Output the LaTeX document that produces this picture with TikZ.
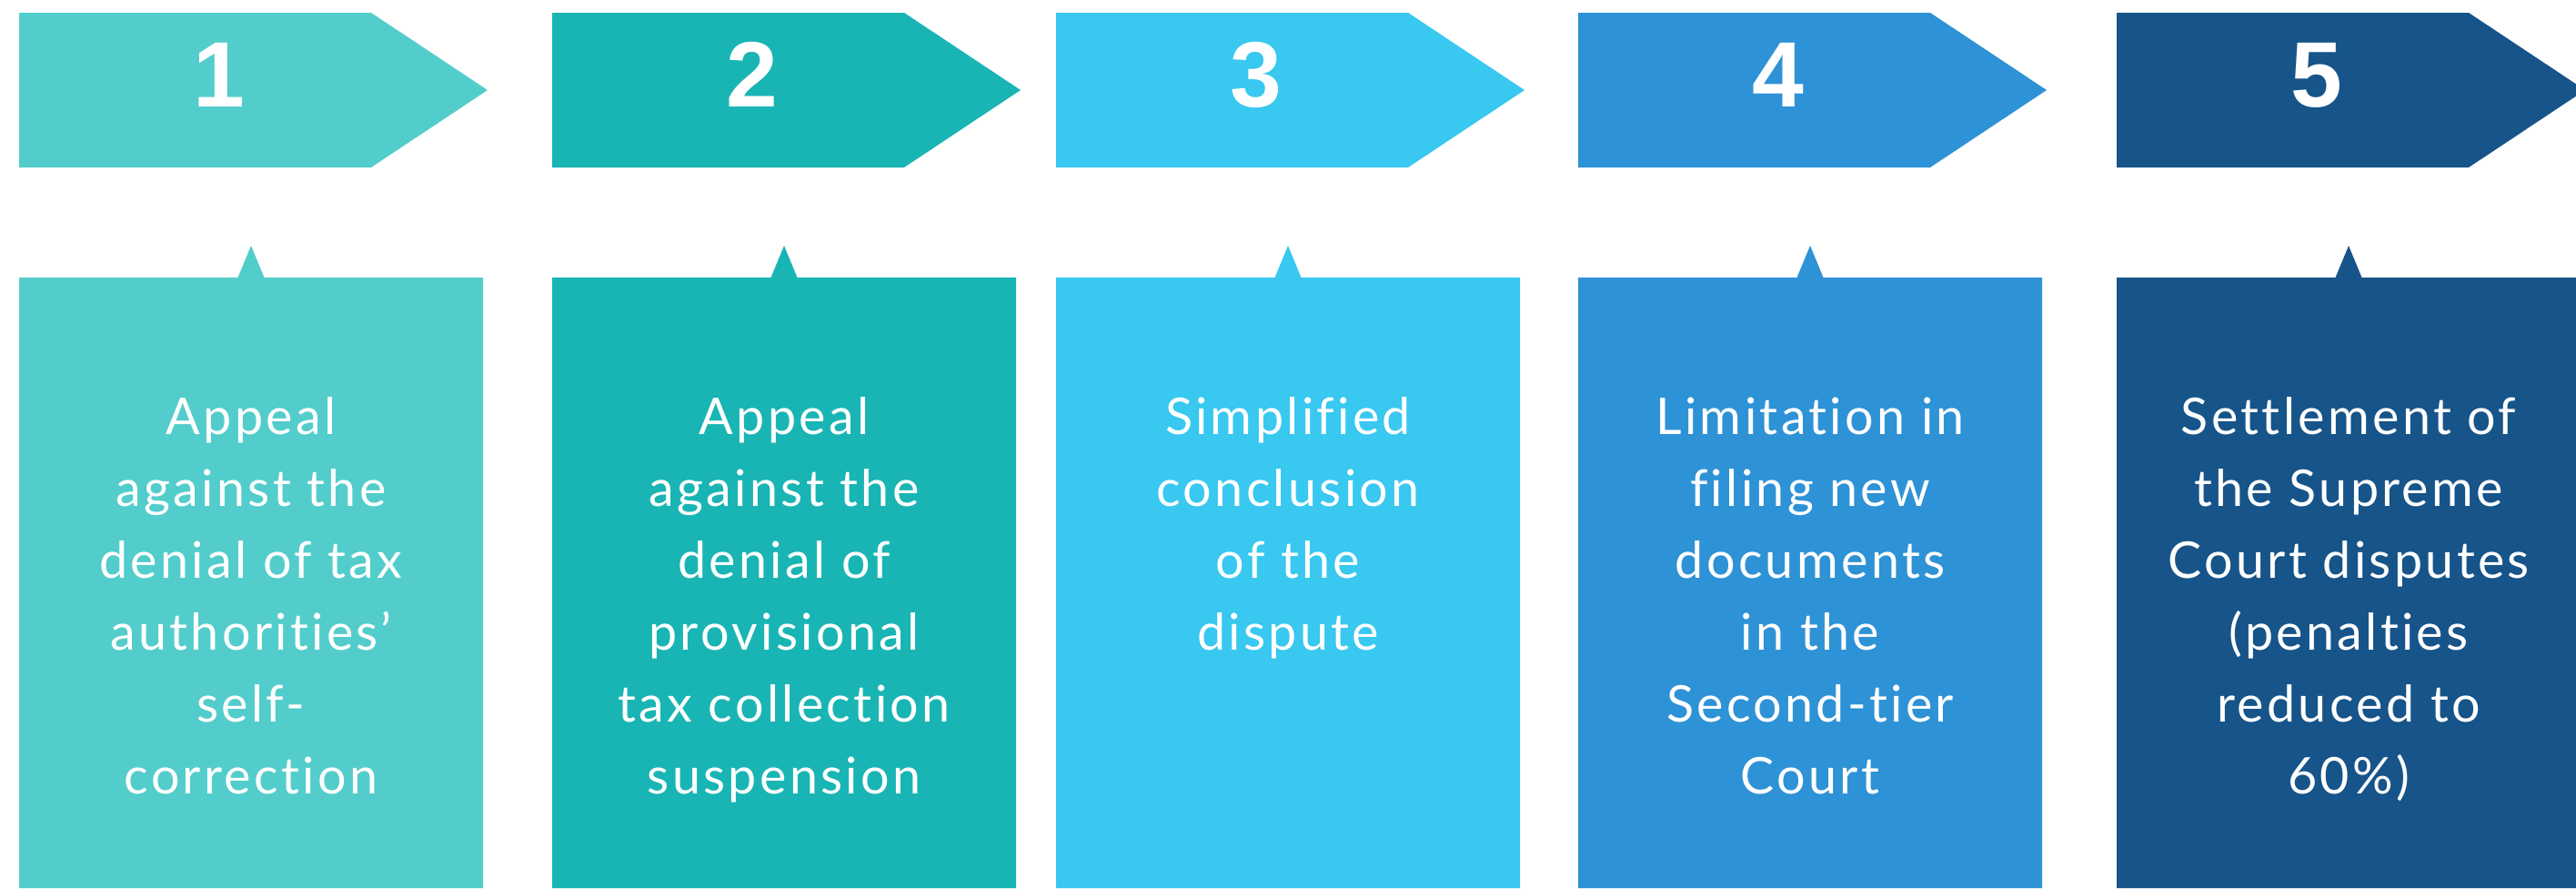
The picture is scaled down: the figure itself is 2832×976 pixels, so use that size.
\documentclass[tikz,border=0pt]{standalone}
\usepackage{fontspec}
\setmainfont[Ligatures=NoCommon,LetterSpace=6]{Lato}
\newfontfamily\numfont{Liberation Sans}
\definecolor{cA}{HTML}{52CDCB}
\definecolor{cB}{HTML}{19B5B4}
\definecolor{cC}{HTML}{38C8F0}
\definecolor{cD}{HTML}{2E92D6}
\definecolor{cE}{HTML}{165489}
\tikzset{
  numlabel/.style={text=white, font=\numfont\bfseries\fontsize{25.5}{25.5}\selectfont, inner sep=0pt, anchor=base},
  bodytext/.style={text=white, font=\fontsize{13.9}{19.75}\selectfont, align=center, inner sep=0pt, anchor=north},
}
\newcommand\stagebox[5]{%
  \fill[#2] (#1,14) -- (#1+387,14) -- (#1+515,99) -- (#1+387,184) -- (#1,184) -- cycle;
  \fill[#2] (#1,305) -- (#1+240.5,305) -- (#1+255,270) -- (#1+269.5,305) -- (#1+510,305) -- (#1+510,976) -- (#1,976) -- cycle;
  \node[numlabel] (n#5) at (#1+220,117) {#3};
  \node[bodytext] (t#5) at (#1+255,436) {#4};
}
\begin{document}
\begin{tikzpicture}[x=0.25pt,y=-0.25pt]
\clip (0,0) rectangle (2832,976);
\fill[white] (0,0) rectangle (2832,976);
\stagebox{21}{cA}{1}{Appeal\\against the\\denial of tax\\authorities’\\self-\\correction}{a}
\stagebox{607}{cB}{2}{Appeal\\against the\\denial of\\provisional\\tax collection\\suspension}{b}
\stagebox{1161}{cC}{3}{Simplified\\conclusion\\of the\\dispute}{c}
\stagebox{1735}{cD}{4}{Limitation in\\filing new\\documents\\in the\\Second-tier\\Court}{d}
\stagebox{2327}{cE}{5}{Settlement of\\the Supreme\\Court disputes\\(penalties\\reduced to\\60\%)}{e}
\end{tikzpicture}
\end{document}
